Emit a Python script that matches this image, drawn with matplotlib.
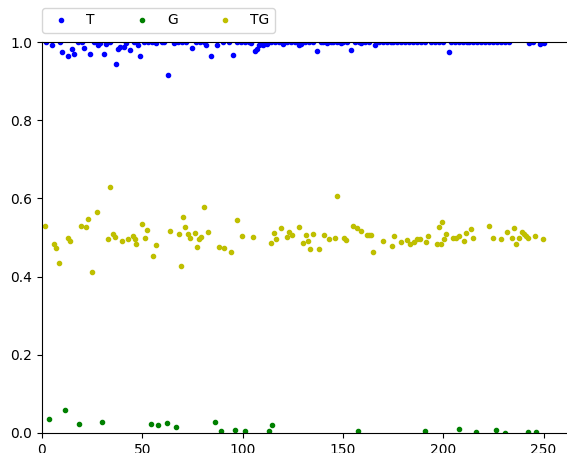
import matplotlib
matplotlib.use('Agg')
import matplotlib.pyplot as plt

# ── Data ────────────────────────────────────────────────────────────────────
T_x = [2, 5, 9, 10, 13, 15, 16, 18, 20, 21, 24, 26, 28, 29, 31, 32, 34, 37, 38, 39,
       41, 42, 44, 46, 48, 49, 51, 53, 55, 57, 60, 61, 63, 66, 68, 70, 72, 75, 77, 79,
       81, 82, 84, 87, 90, 93, 95, 97, 99, 101, 103, 104, 106, 107, 108, 109, 110, 112,
       114, 116, 118, 120, 122, 124, 126, 128, 129, 131, 133, 135, 137, 139, 140, 142,
       144, 145, 147, 149, 150, 152, 154, 156, 158, 159, 161, 163, 166, 168, 170, 172,
       174, 175, 177, 179, 181, 183, 185, 187, 189, 191, 194, 196, 198, 200, 203, 204,
       206, 208, 210, 212, 213, 215, 217, 219, 221, 223, 225, 227, 229, 231, 233, 243,
       245, 248, 250]
T_y = [0.999, 0.992, 0.999, 0.974, 0.964, 0.983, 0.970, 0.999, 0.999, 0.984, 0.970,
       0.999, 0.992, 0.997, 0.970, 0.995, 0.999, 0.943, 0.983, 0.987, 0.987, 0.997,
       0.980, 0.999, 0.992, 0.964, 0.999, 0.999, 0.999, 0.998, 0.999, 0.999, 0.916,
       0.997, 0.999, 1.000, 0.999, 0.984, 0.999, 1.000, 0.999, 0.992, 0.964, 0.992,
       0.999, 0.999, 0.967, 1.000, 0.999, 1.000, 0.999, 0.997, 0.977, 0.981, 0.992,
       0.995, 0.992, 0.995, 1.000, 0.999, 0.999, 0.995, 1.000, 0.999, 1.000, 0.993,
       0.995, 0.999, 1.000, 0.999, 0.978, 0.999, 1.000, 0.997, 1.000, 0.999, 1.000,
       0.998, 1.000, 0.999, 0.980, 0.999, 1.000, 0.998, 1.000, 0.999, 0.992, 0.999,
       1.000, 0.999, 1.000, 0.999, 1.000, 0.999, 0.999, 1.000, 0.999, 1.000, 0.999,
       1.000, 0.999, 1.000, 1.000, 0.999, 0.975, 0.999, 1.000, 0.999, 0.999, 1.000,
       0.999, 1.000, 0.999, 1.000, 0.999, 1.000, 0.999, 1.000, 0.999, 0.999, 0.999,
       0.998, 0.999, 0.995, 0.997]

G_x = [3.5, 11.5, 18.4, 29.9, 54.3, 58, 62.3, 67, 86.1, 89.2, 96.2, 101, 113, 114.7,
       157.5, 190.9, 208, 216.4, 226.5, 230.8, 242.3, 246.4]
G_y = [0.035, 0.059, 0.024, 0.029, 0.024, 0.021, 0.026, 0.015, 0.029, 0.004, 0.008,
       0.004, 0.004, 0.021, 0.004, 0.004, 0.010, 0.003, 0.008, 0.001, 0.003, 0.003]

TG_x = [1.3, 6, 7.1, 8.3, 13, 14, 19.3, 22.1, 23.1, 25.1, 27.3, 34.1, 33.1, 35.2, 36.4,
        40, 43, 45.2, 46.2, 46.9, 50, 51.2, 52.2, 55.5, 56.8, 63.8, 68.1, 69.3, 70.1,
        71.3, 72.9, 73.9, 76.1, 77.1, 78.4, 79.4, 80.8, 82.9,
        88.1, 90.9, 94.1, 97.2, 99.9, 105.2, 114.2, 115.7, 116.8, 119, 122.1, 123.3,
        124.8, 128, 130.1, 131.8, 132.8, 133.8, 134.9, 137.9, 140.7, 142.9, 145.9,
        147.1, 150.5, 151.7, 154.9, 157.2, 158.9, 161.9, 162.9, 164, 165.2, 169.8,
        174.5, 175.6, 179, 182, 183.4, 185.6, 186.8, 188.6, 191.4, 192.6, 196.8, 197.8,
        198.8, 199.6, 200.6, 201.6, 204.7, 206.4, 208, 210.5, 211.5, 213.7, 214.7,
        222.7, 225, 228.7, 231.8, 234.3, 235.4, 236.4, 237.6, 239.4, 240.3, 241.3,
        242.1, 245.6, 249.8]
TG_y = [0.530, 0.483, 0.474, 0.436, 0.500, 0.490, 0.530, 0.528, 0.547, 0.412, 0.566,
        0.628, 0.495, 0.509, 0.501, 0.490, 0.495, 0.503, 0.495, 0.484, 0.534, 0.499,
        0.520, 0.452, 0.482, 0.517, 0.509, 0.428, 0.552, 0.528, 0.508, 0.498, 0.511,
        0.476, 0.497, 0.501, 0.579, 0.513,
        0.476, 0.474, 0.463, 0.545, 0.504, 0.501, 0.487, 0.512, 0.496, 0.525, 0.501,
        0.515, 0.506, 0.528, 0.487, 0.506, 0.490, 0.471, 0.509, 0.471, 0.506, 0.495,
        0.498, 0.607, 0.500, 0.494, 0.529, 0.525, 0.517, 0.506, 0.506, 0.506, 0.463,
        0.490,
        0.479, 0.503, 0.489, 0.494, 0.483, 0.489, 0.496, 0.495, 0.488, 0.504, 0.484,
        0.528, 0.484, 0.540, 0.496, 0.508, 0.499, 0.499, 0.503, 0.490, 0.511, 0.522,
        0.498, 0.530, 0.500, 0.495, 0.513, 0.498, 0.525, 0.484, 0.499, 0.513, 0.508,
        0.504, 0.498, 0.503, 0.496]

# ── Plot ────────────────────────────────────────────────────────────────────
fig = plt.figure(figsize=(5.67, 4.53), dpi=100)
ax = fig.add_axes([42 / 567, 20 / 453, 526.6 / 567, 391 / 453])

ax.plot(T_x, T_y, 'b.', ms=6, label='T')
ax.plot(G_x, G_y, 'g.', ms=6, label='G')
ax.plot(TG_x, TG_y, 'y.', ms=6, label='TG')

ax.set_xlim(0, 262.5)
ax.set_ylim(0, 1.0)
ax.set_xticks([0, 50, 100, 150, 200, 250])
ax.set_yticks([0.0, 0.2, 0.4, 0.6, 0.8, 1.0])

ax.legend(loc='lower left', bbox_to_anchor=(0, 1.023), borderaxespad=0,
          ncol=3, numpoints=1, columnspacing=2.4)

fig.savefig('out.png', dpi=100)
